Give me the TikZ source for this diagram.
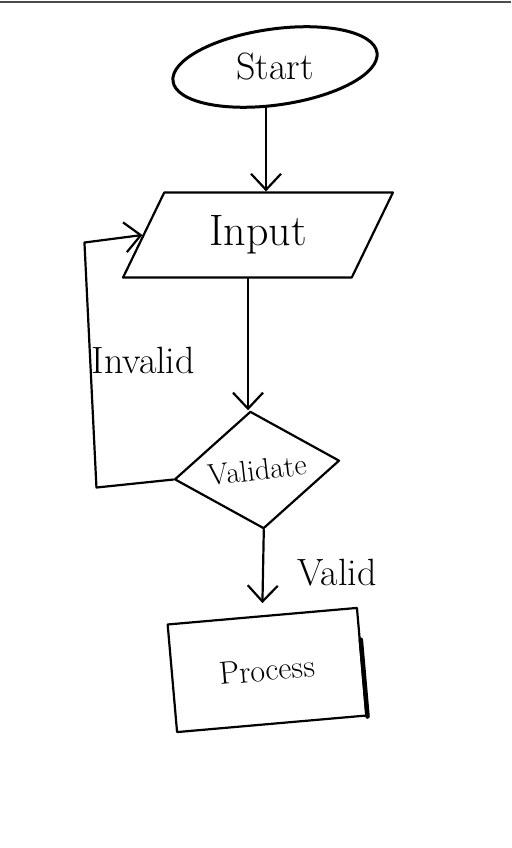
\documentclass[tikz,border=0pt]{standalone}
\usepackage{xcolor}
\usepackage{tikz}
\usetikzlibrary{shapes.geometric, arrows.meta, calc}

\begin{document}
\begin{tikzpicture}[node distance=200pt, line width=2.2pt, line join=round, line cap=round]
        % Define styles
        \tikzstyle{terminal} = [ellipse, draw, line width=3pt, minimum width=206pt, minimum height=76pt, inner sep=0pt, font=\fontsize{38}{42}\selectfont]
        \tikzstyle{io} = [trapezium, trapezium left angle=61, trapezium right angle=119, trapezium stretches=true, draw, minimum width=270pt, minimum height=85pt, inner sep=0pt, font=\fontsize{44}{48}\selectfont]
        \tikzstyle{decision} = [diamond, draw, aspect=1.4, minimum width=166pt, minimum height=118pt, inner sep=0pt, font=\fontsize{30}{34}\selectfont]
        \tikzstyle{procbox} = [rectangle, draw, minimum width=190pt, minimum height=108pt, inner sep=0pt, font=\fontsize{32}{36}\selectfont]
        \tikzstyle{arrow} = [->, line width=2.2pt, >={Straight Barb[length=16pt, width=30pt]}]
        \tikzstyle{note} = [font=\fontsize{38}{42}\selectfont]

        \useasboundingbox (0pt,0pt) rectangle (511pt,-848pt);
        \draw[black!70, line width=2.5pt, line cap=butt] (0pt,-2pt) -- (511pt,-2pt);

        % Nodes
        \node (start) [terminal, rotate=8] at (275pt,-67pt) {\rotatebox{-8}{Start}};

        \node (input) [io, below of=start, yshift=32pt, xshift=-17pt] {Input};

        \node (validate) [decision, below of=input, yshift=-35pt, xshift=-1pt, rotate=6.5] {Validate};

        \node (process) [procbox, below of=validate, yshift=0pt, xshift=10pt, rotate=5] {Process};
        \draw[line width=4.5pt] ($(process.north east)!0.3!(process.south east)$) -- (process.south east);

        % Connections
        \draw [arrow] ([xshift=8pt]input.north |- start.south) -- ([xshift=8pt]input.north);

        \draw [arrow] ([xshift=-10pt]input.south) -- ([xshift=-10pt]input.south |- validate.north);

        \draw [arrow, shorten >=12pt] (validate.south) -- node[note, right, midway, xshift=30pt] {Valid} (process.north);

        \draw [arrow] (validate.west) -- ++(-77pt,-8pt) -- node[note, right, pos=0.52, xshift=-3pt] {Invalid} ++(-12pt,245pt) -- (input.west);

    \end{tikzpicture}
\end{document}
